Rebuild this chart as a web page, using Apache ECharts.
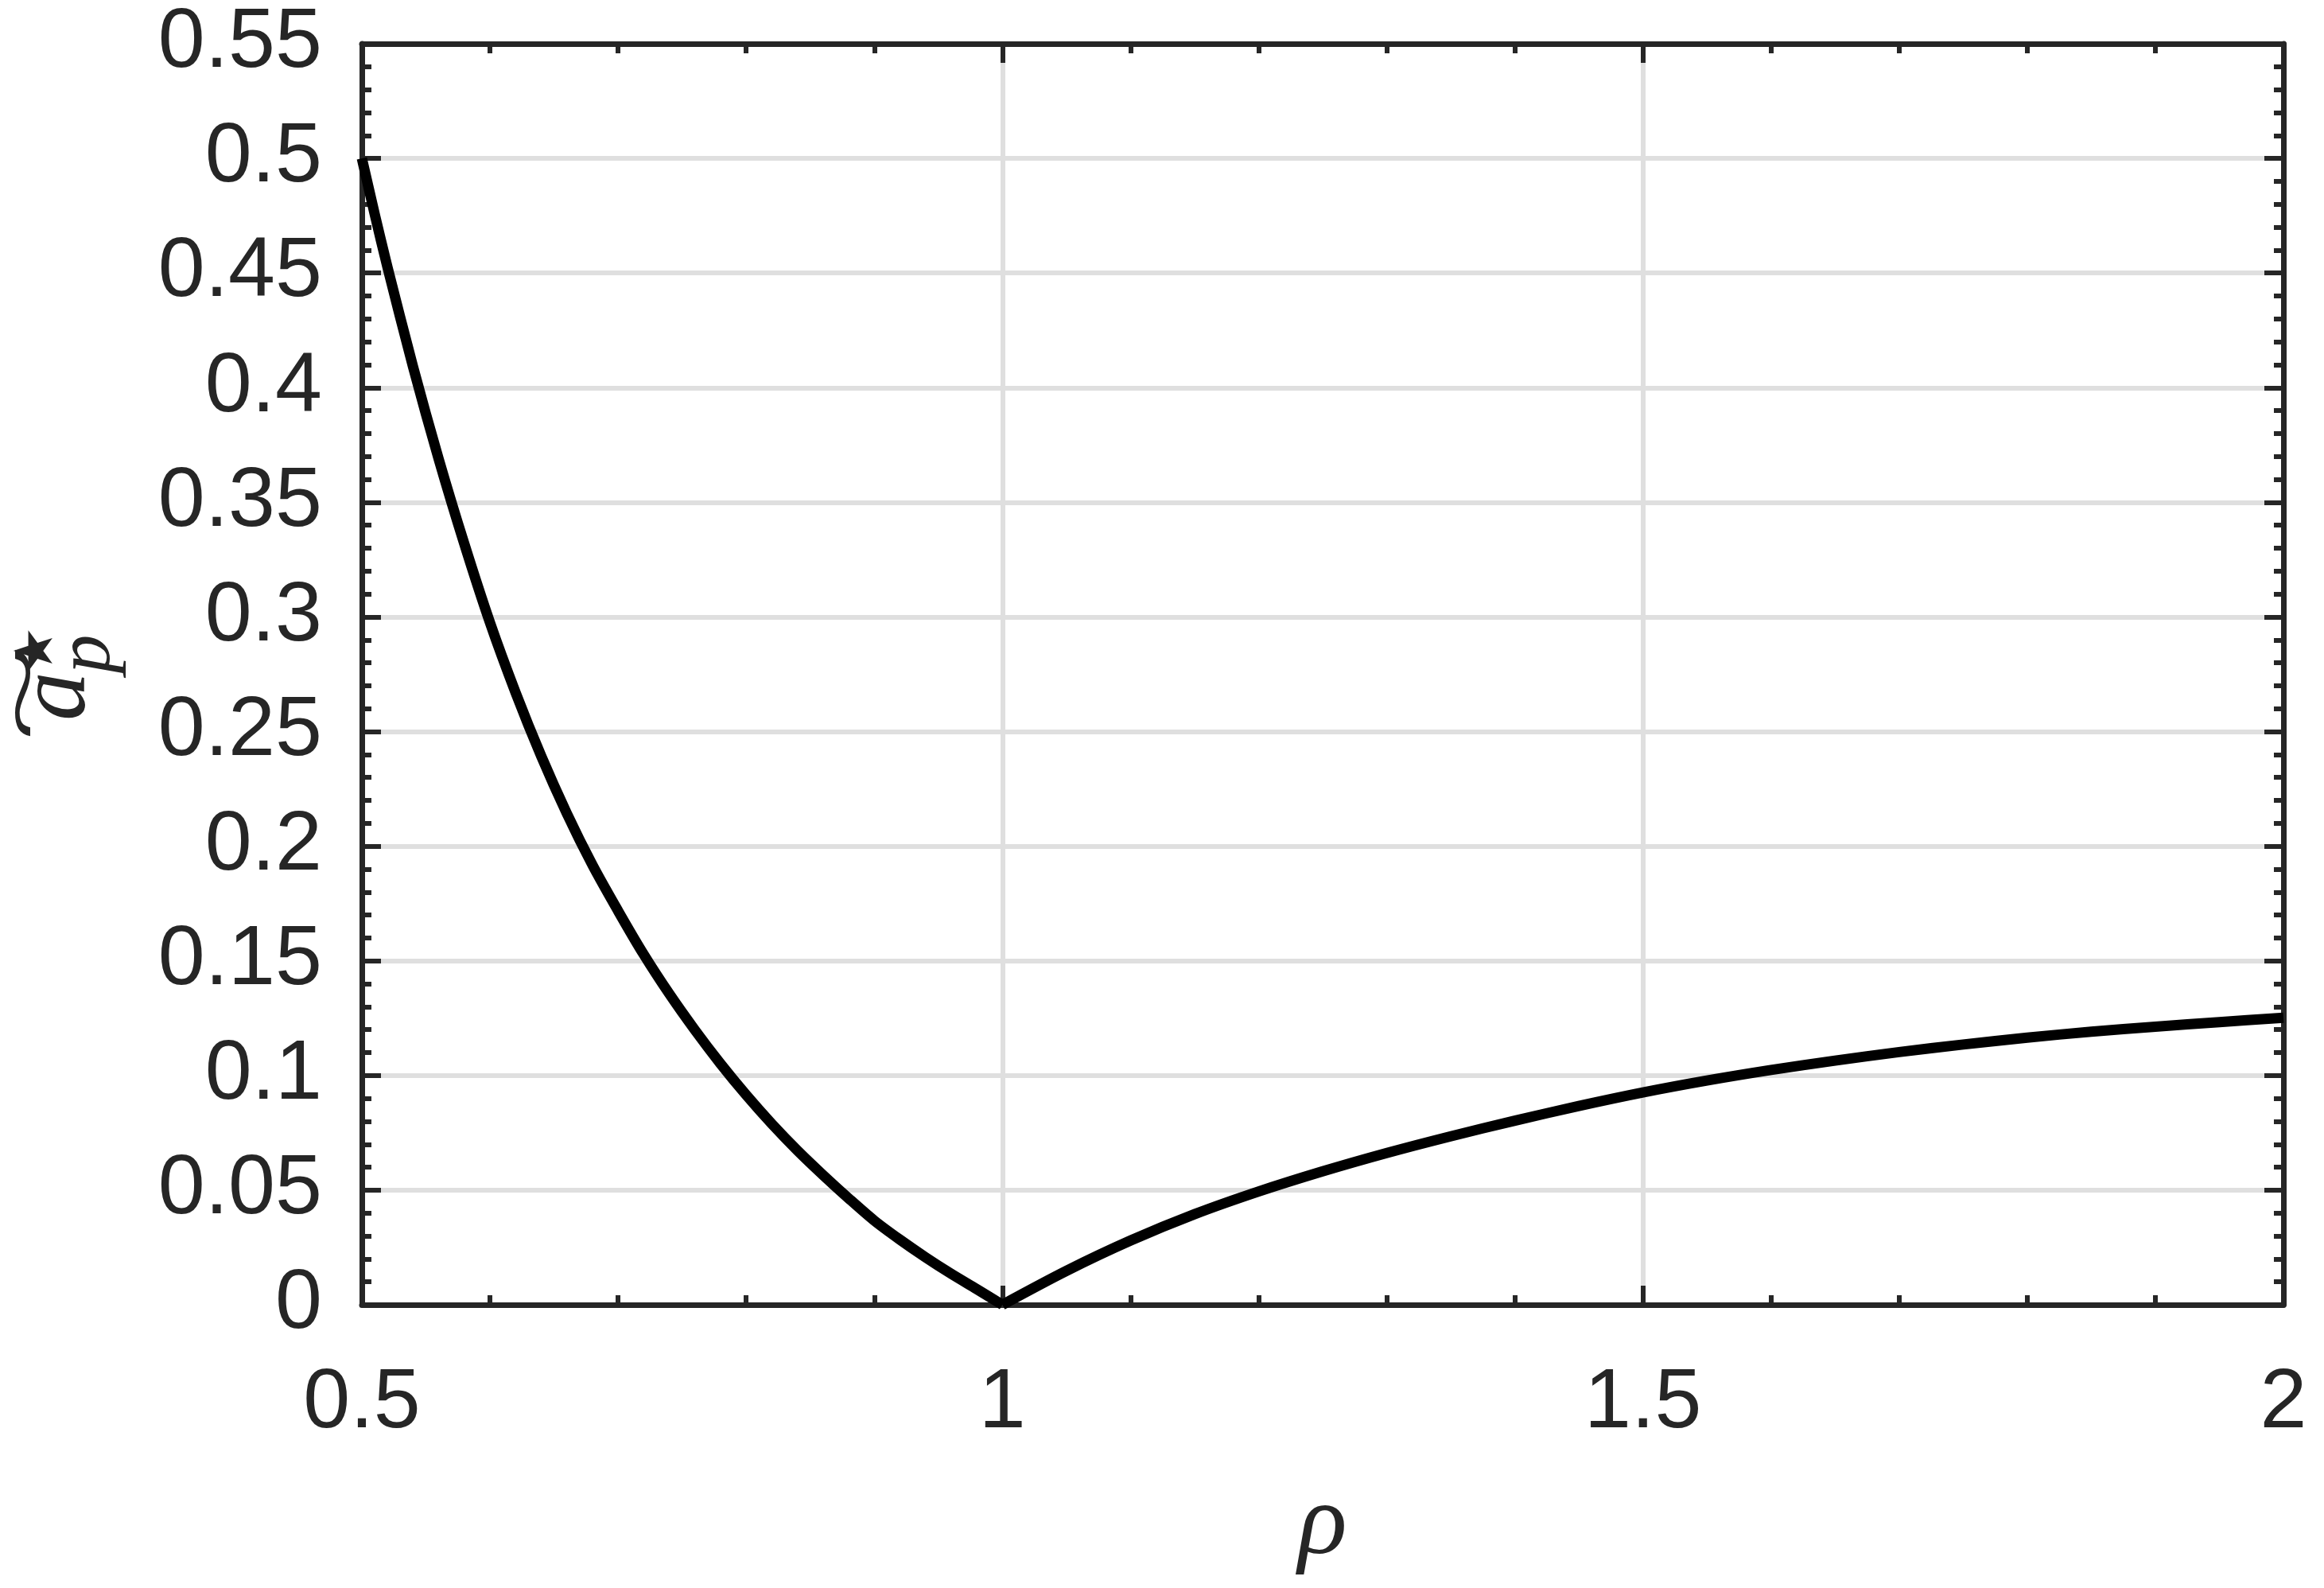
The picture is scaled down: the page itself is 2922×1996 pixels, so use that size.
<!DOCTYPE html>
<html>
<head>
<meta charset="utf-8">
<script src="https://cdn.jsdelivr.net/npm/echarts@6/dist/echarts.min.js"></script>
<style>
html,body{margin:0;padding:0;background:#fff;}
#chart{width:2922px;height:1996px;}
</style>
</head>
<body>
<div id="chart"></div>
<script>
// Left branch (rho <= 1)
const rhoLeft = [0.50,0.51,0.52,0.54,0.56,0.58,0.60,0.62,0.64,0.66,0.68,0.70,0.72,0.74,0.76,0.78,0.80,0.82,0.84,0.86,0.88,0.90,0.92,0.94,0.96,0.98,1.00];
const aLeft   = [0.5000,0.4757,0.4525,0.4090,0.3688,0.3318,0.2975,0.2670,0.2393,0.2143,0.1918,0.1718,0.1528,0.1356,0.1198,0.1051,0.0915,0.0789,0.0673,0.0566,0.0464,0.0367,0.0284,0.0207,0.0135,0.0068,0.0000];
// Right branch (rho >= 1)
const rhoRight = [1.00,1.05,1.10,1.15,1.20,1.25,1.30,1.35,1.40,1.45,1.50,1.55,1.60,1.65,1.70,1.75,1.80,1.85,1.90,1.95,2.00];
const aRight   = [0.0000,0.0148,0.0280,0.0395,0.0494,0.0582,0.0662,0.0735,0.0803,0.0867,0.0926,0.0978,0.1024,0.1065,0.1102,0.1135,0.1165,0.1191,0.1213,0.1233,0.1252];
const xTickLabels = ['0.5','1','1.5','2'];
const yTickLabels = ['0','0.05','0.1','0.15','0.2','0.25','0.3','0.35','0.4','0.45','0.5','0.55'];

const leftData = rhoLeft.map((r, i) => [r, aLeft[i]]);
const rightData = rhoRight.map((r, i) => [r, aRight[i]]);

const AX = '#262626';
const GRIDC = '#dfdfdf';
const labelFont = 'Liberation Sans, Arial, Helvetica, sans-serif';
const mathFont = 'Liberation Serif, DejaVu Serif, serif';

function axisCommon(extra) {
  return Object.assign({
    axisLine: { show: true, onZero: false, lineStyle: { color: AX, width: 7 } },
    axisTick: { show: true, inside: true, length: 24, lineStyle: { color: AX, width: 6 } },
    minorTick: { show: true, splitNumber: 5, length: 12, lineStyle: { color: AX, width: 6 } },
    minorSplitLine: { show: false }
  }, extra);
}

function curve(data) {
  return {
    type: 'line',
    xAxisIndex: 0, yAxisIndex: 0,
    data: data,
    showSymbol: false,
    symbol: 'none',
    clip: false,
    smooth: 0.3,
    lineStyle: { color: '#000000', width: 13, join: 'round', cap: 'butt' },
    z: 5
  };
}

const chart = echarts.init(document.getElementById('chart'), null, { renderer: 'canvas' });
chart.setOption({
  backgroundColor: '#ffffff',
  animation: false,
  grid: { left: 455, right: 51, top: 55, bottom: 356, containLabel: false },
  xAxis: [
    axisCommon({
      type: 'value', position: 'bottom', min: 0.5, max: 2, interval: 0.5,
      axisLabel: { show: true, margin: 72, fontSize: 106, color: AX, fontFamily: labelFont,
        showMinLabel: true, showMaxLabel: true,
        formatter: v => xTickLabels[Math.round((v - 0.5) / 0.5)] },
      splitLine: { show: true, lineStyle: { color: GRIDC, width: 6 } },
      name: 'ρ', nameLocation: 'middle', nameGap: 214,
      nameTextStyle: { fontSize: 128, fontStyle: 'italic', fontFamily: mathFont, color: AX }
    }),
    axisCommon({
      type: 'value', position: 'top', min: 0.5, max: 2, interval: 0.5,
      axisLabel: { show: false }, splitLine: { show: false }
    })
  ],
  yAxis: [
    axisCommon({
      type: 'value', position: 'left', min: 0, max: 0.55, interval: 0.05,
      axisLabel: { show: true, margin: 50, fontSize: 106, color: AX, fontFamily: labelFont,
        showMinLabel: true, showMaxLabel: true,
        formatter: v => yTickLabels[Math.round(v / 0.05)] },
      splitLine: { show: true, lineStyle: { color: GRIDC, width: 6 } }
    }),
    axisCommon({
      type: 'value', position: 'right', min: 0, max: 0.55, interval: 0.05,
      axisLabel: { show: false }, splitLine: { show: false }
    })
  ],
  series: [curve(leftData), curve(rightData)],
  graphic: [{
    type: 'group',
    x: 113, y: 852,
    rotation: Math.PI / 2,
    children: [
      { type: 'text', x: -23, y: -40, style: { text: 'a', fontSize: 124, fontStyle: 'italic', fontFamily: mathFont, fill: AX, align: 'center', verticalAlign: 'middle' } },
      { type: 'text', x: -19, y: -76, scaleX: 2.0, style: { text: '~', fontSize: 112, fontFamily: mathFont, fill: AX, align: 'center', verticalAlign: 'middle' } },
      { type: 'text', x: 34, y: -62, style: { text: '⋆', fontSize: 135, fontFamily: 'DejaVu Sans, sans-serif', fill: AX, align: 'center', verticalAlign: 'middle' } },
      { type: 'text', x: 30, y: -2, style: { text: 'p', fontSize: 98, fontStyle: 'italic', fontFamily: mathFont, fill: AX, align: 'center', verticalAlign: 'middle' } }
    ]
  }]
});
</script>
</body>
</html>
